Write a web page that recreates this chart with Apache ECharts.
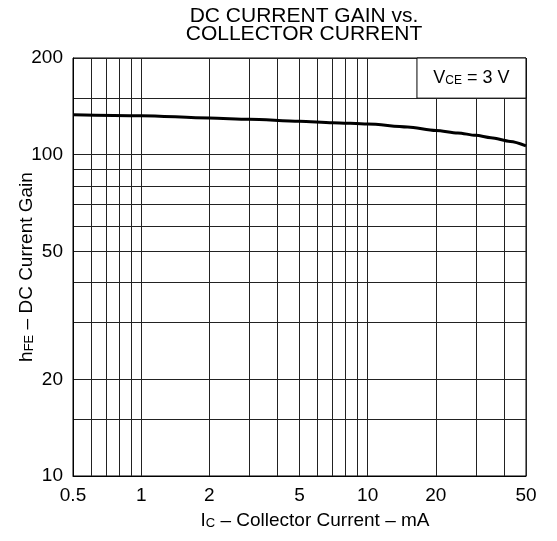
<!DOCTYPE html>
<html><head><meta charset="utf-8">
<script src="https://cdn.jsdelivr.net/npm/echarts@6/dist/echarts.min.js"></script>
<style>html,body{margin:0;padding:0;background:#fff}#c{width:557px;height:541px}</style>
</head><body><div id="c"></div>
<script>
// Data
const collectorCurrent = [0.5, 1, 2, 3, 5, 7, 10, 15, 20, 25, 30, 35, 42.6, 50];
const dcGain = [133.2, 132.3, 130.1, 128.9, 127.1, 125.8, 124.6, 122.0, 119.0, 116.9, 114.9, 113.0, 110.0, 106.5];

const xTickLabels = [0.5, 1, 2, 5, 10, 20, 50];
const xGridValues = [0.5, 0.6, 0.7, 0.8, 0.9, 1, 2, 3, 4, 5, 6, 7, 8, 9, 10, 20, 30, 40, 50];
const yTickLabels = [10, 20, 50, 100, 200];
const yGridValues = [10, 15, 20, 30, 40, 50, 60, 70, 80, 90, 100, 150, 200];

const noteBoxX = [16.5, 50];
const noteBoxY = [150, 200];

const FONT = 'Liberation Sans, Arial, Helvetica, sans-serif';
const fmt = v => String(+(+v).toPrecision(3));

const chart = echarts.init(document.getElementById('c'), null, {renderer: 'canvas'});
chart.setOption({
  backgroundColor: '#fff',
  animation: false,
  title: {
    text: 'DC CURRENT GAIN vs.\nCOLLECTOR CURRENT',
    left: 304, top: 7, textAlign: 'center', padding: 0,
    textStyle: {fontFamily: FONT, fontSize: 21, fontWeight: 'normal', color: '#000', lineHeight: 18}
  },
  grid: {left: 73, right: 31, top: 58, bottom: 65, show: true, borderColor: '#000', borderWidth: 1,
         containLabel: false, outerBoundsMode: 'none'},
  xAxis: {
    type: 'log', logBase: 10, min: 0.5, max: 50,
    axisLine: {show: true, lineStyle: {color: '#000', width: 1}},
    axisTick: {show: false, customValues: xGridValues},
    splitLine: {show: true, lineStyle: {color: '#222', width: 1}},
    minorTick: {show: false}, minorSplitLine: {show: false},
    axisLabel: {customValues: xTickLabels, formatter: fmt, fontFamily: FONT, fontSize: 19, color: '#000', margin: 10},
    name: '{n|I}{s|C}{n| – Collector Current – mA}',
    nameLocation: 'middle', nameGap: 35, nameMoveOverlap: false,
    nameTextStyle: {padding: [0, 0, 0, 31], rich: {
      n: {fontFamily: FONT, fontSize: 19, color: '#000', lineHeight: 19},
      s: {fontFamily: FONT, fontSize: 13, color: '#000', lineHeight: 13, verticalAlign: 'bottom'}
    }}
  },
  yAxis: {
    type: 'log', logBase: 10, min: 10, max: 200,
    axisLine: {show: true, lineStyle: {color: '#000', width: 1}},
    axisTick: {show: false, customValues: yGridValues},
    splitLine: {show: true, lineStyle: {color: '#222', width: 1}},
    minorTick: {show: false}, minorSplitLine: {show: false},
    axisLabel: {customValues: yTickLabels, formatter: fmt, fontFamily: FONT, fontSize: 19, color: '#000', margin: 10},
    name: '{n|h}{s|FE}{n| – DC Current Gain}',
    nameLocation: 'middle', nameGap: 37, nameMoveOverlap: false,
    nameTextStyle: {rich: {
      n: {fontFamily: FONT, fontSize: 19, color: '#000', lineHeight: 19},
      s: {fontFamily: FONT, fontSize: 13, color: '#000', lineHeight: 13, verticalAlign: 'bottom'}
    }}
  },
  series: [{
    type: 'line',
    data: collectorCurrent.map((x, i) => [x, dcGain[i]]),
    smooth: 0.3, smoothMonotone: 'x',
    showSymbol: false, symbol: 'none',
    lineStyle: {color: '#000', width: 3},
    z: 5,
    markArea: {
      silent: true,
      itemStyle: {color: '#fff', borderColor: '#000', borderWidth: 1},
      label: {
        show: true, position: 'inside',
        formatter: '{n|V}{s|CE}{n| = 3 V}',
        rich: {
          n: {fontFamily: FONT, fontSize: 18, color: '#000', lineHeight: 18},
          s: {fontFamily: FONT, fontSize: 12, color: '#000', lineHeight: 12, verticalAlign: 'bottom'}
        }
      },
      data: [[{xAxis: noteBoxX[0], yAxis: noteBoxY[0]}, {xAxis: noteBoxX[1], yAxis: noteBoxY[1]}]]
    }
  }]
});
</script></body></html>
